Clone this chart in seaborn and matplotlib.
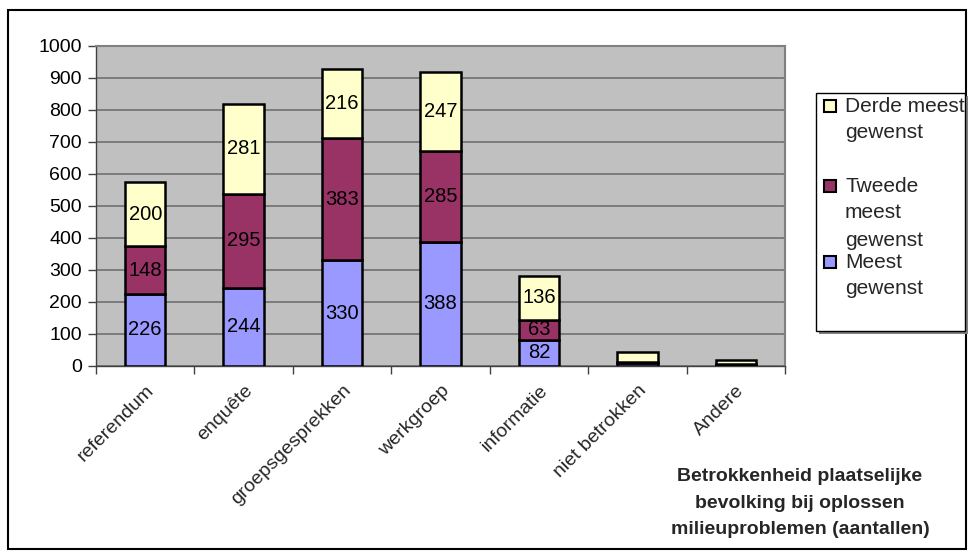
import pandas as pd
import matplotlib
matplotlib.use("Agg")
import matplotlib.pyplot as plt
import seaborn as sns
from matplotlib.patches import Rectangle

# waarden
categorieen = ["referendum", "enquête", "groepsgesprekken", "werkgroep",
               "informatie", "niet betrokken", "Andere"]
meest = [226, 244, 330, 388, 82, 10, 3]
tweede = [148, 295, 383, 285, 63, 4, 2]
derde = [200, 281, 216, 247, 136, 30, 15]

reeksen = ["Meest gewenst", "Tweede meest gewenst", "Derde meest gewenst"]
kleuren = ["#9999FF", "#993366", "#FFFFCC"]

df = pd.DataFrame({"categorie": categorieen, "meest": meest,
                   "tweede": tweede, "derde": derde})

sns.set_style("white")
plt.rcParams["font.family"] = ["Liberation Sans", "DejaVu Sans"]

W, H = 968, 551
fig = plt.figure(figsize=(W / 100, H / 100), dpi=100)
ax = fig.add_axes([96 / W, 1 - 366 / H, 689 / W, 320 / H])
ax.set_facecolor("#C0C0C0")

onder = [0] * len(categorieen)
for kol, kleur in zip(["meest", "tweede", "derde"], kleuren):
    sns.barplot(data=df, x="categorie", y=kol, bottom=onder, color=kleur,
                edgecolor="black", linewidth=1.8, width=0.41,
                saturation=1, ax=ax, zorder=3)
    labels = [str(v) if v >= 50 else "" for v in df[kol]]
    ax.bar_label(ax.containers[-1], labels=labels, label_type="center",
                 fontsize=14.5, color="black", zorder=4)
    onder = [a + b for a, b in zip(onder, df[kol])]

ax.set_ylim(0, 1000)
ax.set_xlim(-0.5, len(categorieen) - 0.5)
ax.set_yticks(range(0, 1001, 100))
ax.yaxis.grid(True, color="#707070", linewidth=1.2, zorder=0)
ax.set_axisbelow(True)
ax.set_xlabel("")
ax.set_ylabel("")

for side in ["top", "right"]:
    ax.spines[side].set_color("#808080")
    ax.spines[side].set_linewidth(1.5)
for side in ["left", "bottom"]:
    ax.spines[side].set_color("#404040")
    ax.spines[side].set_linewidth(1)

ax.tick_params(axis="y", left=True, length=6, width=1,
               labelsize=14, pad=4, color="#404040", labelcolor="black")
ax.set_xticks(range(len(categorieen)))
ax.set_xticklabels(categorieen, rotation=45, ha="right",
                   rotation_mode="anchor", fontsize=14)
ax.tick_params(axis="x", which="major", bottom=False, pad=8)
ax.set_xticks([i + 0.5 for i in range(-1, len(categorieen))], minor=True)
ax.tick_params(axis="x", which="minor", bottom=True, length=6, width=1,
               color="#404040")

fig.text(800 / W, 1 - 503 / H,
         "Betrokkenheid plaatselijke\nbevolking bij oplossen\nmilieuproblemen (aantallen)",
         ha="center", va="center", fontsize=14, fontweight="bold",
         linespacing=1.7)


def px(x, y):
    return (x / W, 1 - y / H)


# legenda in Excel-stijl: symbool naast de eerste regel van elk label
fig.patches.append(Rectangle(px(819, 334), 149 / W, 238 / H,
                             transform=fig.transFigure, facecolor="#808080",
                             edgecolor="none", zorder=5))
fig.patches.append(Rectangle(px(816, 331), 149 / W, 238 / H,
                             transform=fig.transFigure, facecolor="white",
                             edgecolor="black", linewidth=1, zorder=6))
legenda = [
    (kleuren[2], 106, ["Derde meest", "gewenst"]),
    (kleuren[1], 186, ["Tweede", "meest", "gewenst"]),
    (kleuren[0], 262, ["Meest", "gewenst"]),
]
for kleur, yc, regels in legenda:
    fig.patches.append(Rectangle(px(824, yc + 6), 12 / W, 12 / H,
                                 transform=fig.transFigure, facecolor=kleur,
                                 edgecolor="black", linewidth=1.5, zorder=7))
    for i, regel in enumerate(regels):
        fig.text(845 / W, 1 - (yc + 27 * i) / H, regel, ha="left",
                 va="center", fontsize=15, zorder=8)

fig.patches.append(Rectangle(px(8, 549), 958 / W, 539 / H,
                             transform=fig.transFigure, fill=False,
                             edgecolor="black", linewidth=1.5))

fig.savefig("out.png", dpi=100)
